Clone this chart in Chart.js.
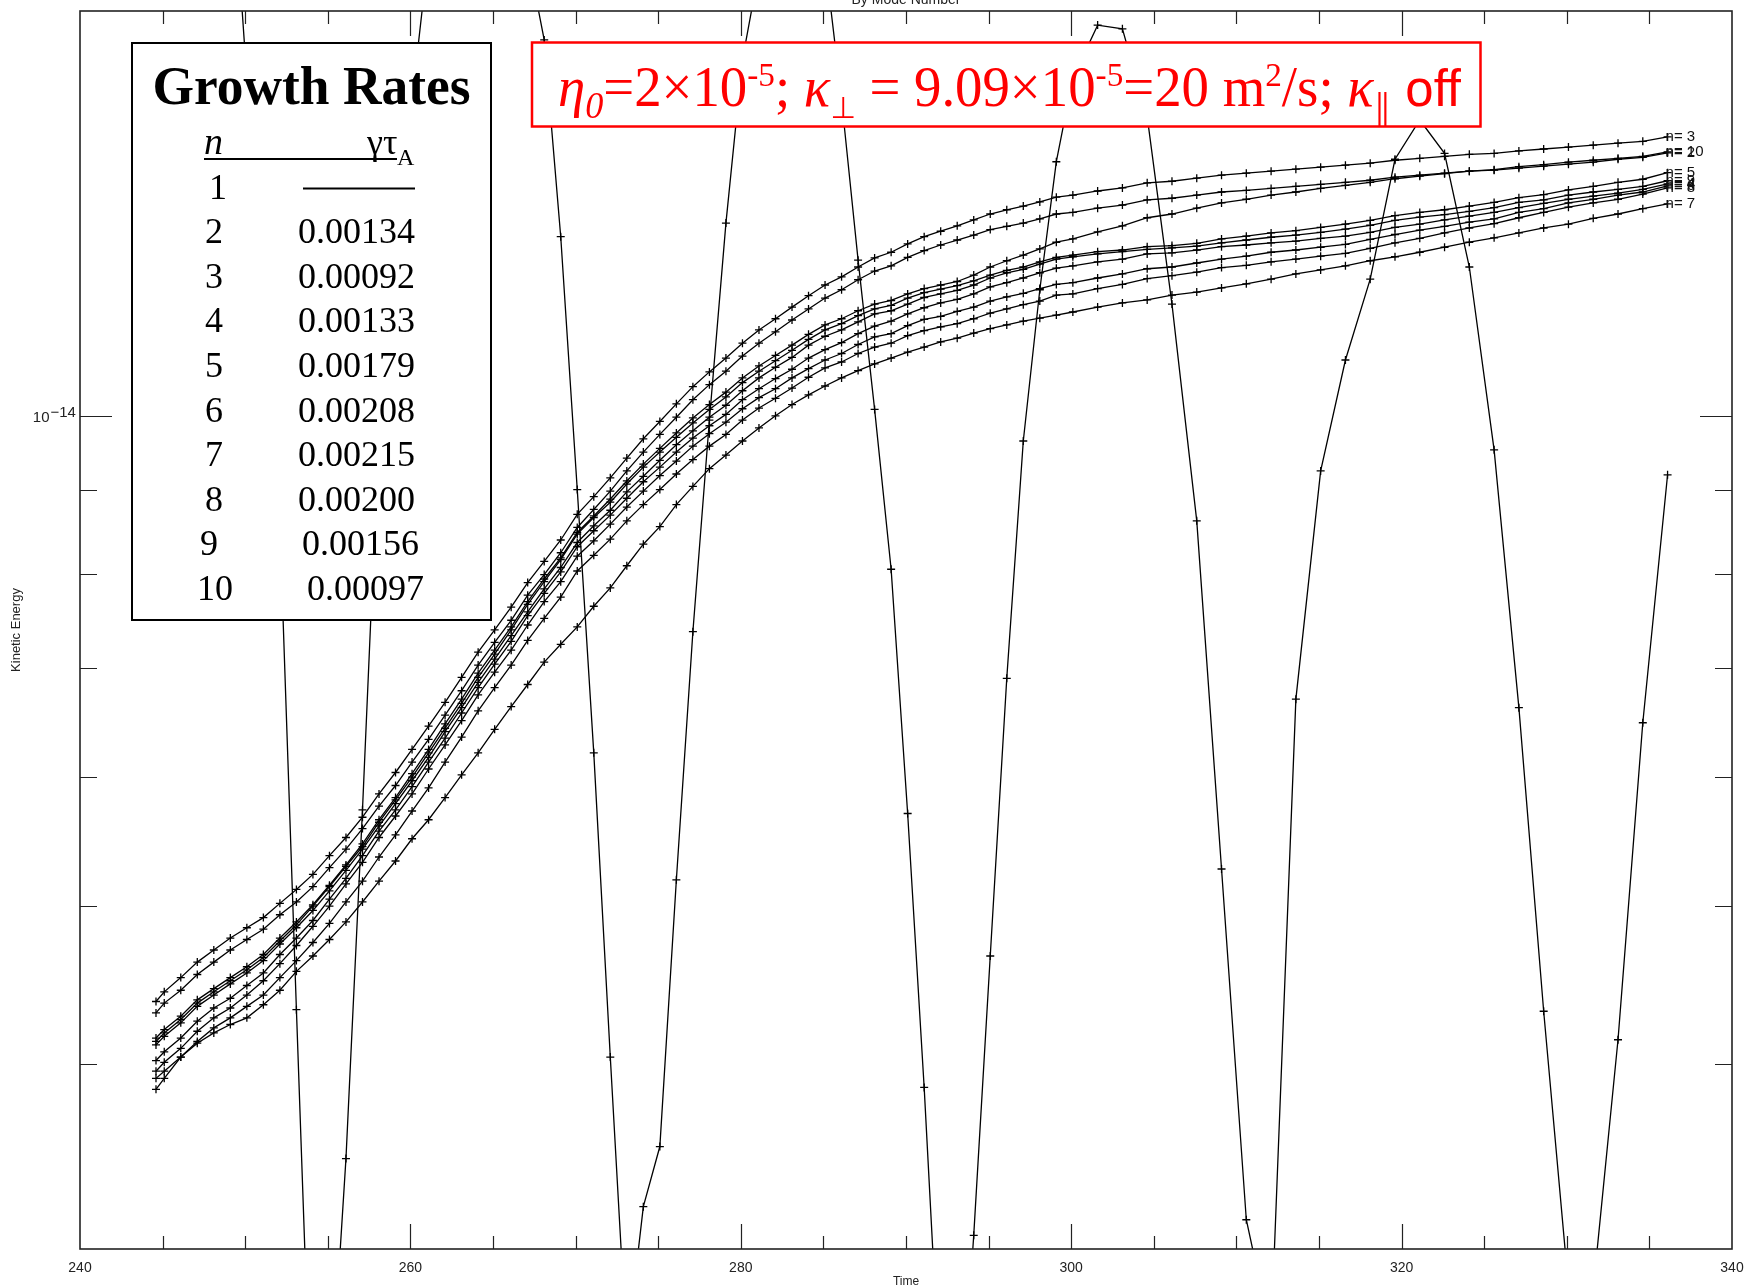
<!DOCTYPE html>
<html>
<head>
<meta charset="utf-8">
<title>Kinetic Energy By Mode Number</title>
<script src="https://cdn.jsdelivr.net/npm/chart.js@4.4.1/dist/chart.umd.min.js"></script>
<style>
  html, body { margin: 0; padding: 0; background: #fff; }
  #wrap { width: 1749px; height: 1288px; position: relative; }
</style>
</head>
<body>
<div id="wrap"><canvas id="energyChart"></canvas></div>
<script>
// time samples (dt = 1 up to t ~ 300, then 1.5)
const times = [
  244.6, 245.1, 246.1, 247.1, 248.1, 249.1, 250.1,
  251.1, 252.1, 253.1, 254.1, 255.1, 256.1, 257.1,
  258.1, 259.1, 260.1, 261.1, 262.1, 263.1,
  264.1, 265.1, 266.1, 267.1, 268.1, 269.1, 270.1,
  271.1, 272.1, 273.1, 274.1, 275.1, 276.1, 277.1, 278.1,
  279.1, 280.1, 281.1, 282.1, 283.1, 284.1, 285.1,
  286.1, 287.1, 288.1, 289.1, 290.1, 291.1, 292.1, 293.1,
  294.1, 295.1, 296.1, 297.1, 298.1, 299.1, 300.1,
  301.6, 303.1, 304.6, 306.1, 307.6,
  309.1, 310.6, 312.1, 313.6, 315.1, 316.6,
  318.1, 319.6, 321.1, 322.6, 324.1,
  325.6, 327.1, 328.6, 330.1,
  331.6, 333.1, 334.6, 336.1
];

// kinetic energy per mode, in units of 1e-15
const energyUnit = 1e-15;

const modeN1 = [
  23.9, 24.9, 25.6, 25.3, 24.5, 22.6, 16.1,
  11.78, 8.56, 4.32, 2.22, 2.42, 3.50, 5.73,
  9.80, 13.0, 15.63, 19.23, 22.24, 24.2,
  25.3, 24.9, 22.9, 19.18, 17.01, 12.88, 9.01,
  6.21, 4.04, 2.67, 3.27, 3.56, 5.19, 7.37, 9.94,
  13.13, 16.54, 18.77, 20.15, 20.73, 20.44, 19.05,
  15.63, 12.46, 10.09, 8.05, 5.70, 3.87, 2.49, 2.22,
  3.14, 4.66, 6.90, 9.65, 11.95, 14.32, 16.12,
  17.37, 17.28, 15.26, 11.71, 8.62,
  5.27, 3.21, 2.73, 6.70, 9.25, 10.82,
  12.13, 14.37, 15.19, 14.49, 12.34,
  9.53, 6.62, 4.31, 2.92,
  2.91, 4.14, 6.48, 9.20
];

const modeN2 = [
  4.30, 4.36, 4.44, 4.54, 4.62, 4.70, 4.77,
  4.84, 4.94, 5.03, 5.14, 5.28, 5.42, 5.58,
  5.76, 5.93, 6.13, 6.33, 6.55, 6.78,
  7.03, 7.26, 7.49, 7.76, 7.99, 8.24, 8.54,
  8.76, 8.99, 9.25, 9.50, 9.74, 9.98, 10.23, 10.45,
  10.65, 10.88, 11.08, 11.26, 11.45, 11.63, 11.81,
  11.95, 12.12, 12.27, 12.36, 12.51, 12.63, 12.73, 12.82,
  12.91, 13.01, 13.07, 13.13, 13.21, 13.30, 13.33,
  13.41, 13.47, 13.57, 13.60, 13.66,
  13.72, 13.75, 13.79, 13.83, 13.87, 13.91,
  13.95, 14.01, 14.05, 14.09, 14.13,
  14.15, 14.19, 14.23, 14.27,
  14.31, 14.37, 14.41, 14.50
];

const modeN3 = [
  4.37, 4.43, 4.52, 4.62, 4.70, 4.78, 4.85,
  4.92, 5.02, 5.12, 5.23, 5.37, 5.51, 5.67,
  5.86, 6.04, 6.24, 6.45, 6.67, 6.91,
  7.16, 7.39, 7.63, 7.90, 8.14, 8.39, 8.70,
  8.92, 9.16, 9.42, 9.68, 9.92, 10.17, 10.42, 10.64,
  10.85, 11.08, 11.29, 11.47, 11.66, 11.85, 12.03,
  12.17, 12.34, 12.50, 12.60, 12.75, 12.88, 12.98, 13.08,
  13.19, 13.30, 13.38, 13.45, 13.53, 13.62, 13.66,
  13.74, 13.80, 13.90, 13.93, 13.99,
  14.05, 14.09, 14.13, 14.17, 14.21, 14.25,
  14.29, 14.35, 14.39, 14.43, 14.47,
  14.49, 14.54, 14.58, 14.62,
  14.66, 14.70, 14.74, 14.83
];

const modeN4 = [
  4.02, 4.07, 4.15, 4.25, 4.33, 4.39, 4.47,
  4.55, 4.67, 4.78, 4.90, 5.05, 5.20, 5.37,
  5.56, 5.73, 5.92, 6.13, 6.34, 6.57,
  6.81, 7.04, 7.27, 7.54, 7.78, 8.02, 8.31,
  8.50, 8.69, 8.90, 9.11, 9.30, 9.50, 9.69, 9.86,
  10.02, 10.23, 10.39, 10.54, 10.68, 10.85, 10.98,
  11.09, 11.23, 11.35, 11.43, 11.55, 11.65, 11.73, 11.79,
  11.88, 12.00, 12.07, 12.15, 12.24, 12.32, 12.36,
  12.43, 12.48, 12.57, 12.59, 12.64,
  12.70, 12.73, 12.77, 12.80, 12.85, 12.89,
  12.96, 13.05, 13.11, 13.19, 13.26,
  13.33, 13.42, 13.50, 13.58,
  13.64, 13.70, 13.77, 13.88
];

const modeN5 = [
  4.13, 4.18, 4.26, 4.36, 4.43, 4.50, 4.57,
  4.65, 4.76, 4.87, 5.00, 5.14, 5.29, 5.44,
  5.63, 5.81, 6.00, 6.21, 6.43, 6.66,
  6.91, 7.14, 7.39, 7.66, 7.91, 8.16, 8.46,
  8.66, 8.85, 9.08, 9.30, 9.50, 9.70, 9.90, 10.09,
  10.27, 10.48, 10.65, 10.81, 10.97, 11.14, 11.29,
  11.39, 11.52, 11.63, 11.69, 11.81, 11.90, 11.96, 12.02,
  12.10, 12.20, 12.28, 12.34, 12.43, 12.51, 12.55,
  12.61, 12.64, 12.70, 12.72, 12.76,
  12.84, 12.89, 12.95, 12.99, 13.05, 13.11,
  13.18, 13.27, 13.33, 13.38, 13.45,
  13.52, 13.61, 13.67, 13.76,
  13.83, 13.91, 13.97, 14.10
];

const modeN6 = [
  3.96, 4.01, 4.09, 4.19, 4.27, 4.33, 4.41,
  4.50, 4.61, 4.73, 4.86, 5.00, 5.16, 5.32,
  5.51, 5.68, 5.86, 6.07, 6.28, 6.50,
  6.74, 6.96, 7.18, 7.44, 7.69, 7.91, 8.20,
  8.38, 8.58, 8.79, 8.99, 9.19, 9.38, 9.58, 9.75,
  9.91, 10.10, 10.26, 10.39, 10.55, 10.69, 10.82,
  10.92, 11.06, 11.18, 11.23, 11.36, 11.46, 11.51, 11.59,
  11.66, 11.76, 11.83, 11.89, 11.97, 12.04, 12.07,
  12.15, 12.22, 12.31, 12.34, 12.41,
  12.48, 12.53, 12.60, 12.64, 12.69, 12.74,
  12.83, 12.92, 13.00, 13.07, 13.15,
  13.21, 13.33, 13.40, 13.51,
  13.58, 13.66, 13.72, 13.84
];

const modeN7 = [
  3.86, 3.92, 4.04, 4.12, 4.18, 4.23, 4.27,
  4.35, 4.44, 4.56, 4.66, 4.77, 4.89, 5.03,
  5.18, 5.33, 5.50, 5.65, 5.83, 6.02,
  6.21, 6.42, 6.63, 6.84, 7.06, 7.24, 7.42,
  7.64, 7.84, 8.09, 8.34, 8.55, 8.82, 9.05, 9.28,
  9.46, 9.65, 9.83, 10.00, 10.16, 10.30, 10.43,
  10.55, 10.66, 10.76, 10.85, 10.94, 11.02, 11.10, 11.16,
  11.24, 11.31, 11.37, 11.43, 11.48, 11.53, 11.58,
  11.66, 11.73, 11.78, 11.86, 11.91,
  11.98, 12.05, 12.13, 12.22, 12.29, 12.36,
  12.45, 12.52, 12.60, 12.69, 12.78,
  12.86, 12.95, 13.04, 13.11,
  13.22, 13.30, 13.40, 13.49
];

const modeN8 = [
  3.92, 3.96, 4.04, 4.13, 4.21, 4.27, 4.34,
  4.41, 4.52, 4.63, 4.75, 4.88, 5.03, 5.18,
  5.36, 5.53, 5.72, 5.91, 6.13, 6.35,
  6.59, 6.81, 7.03, 7.28, 7.51, 7.74, 8.03,
  8.21, 8.40, 8.62, 8.82, 9.01, 9.21, 9.40, 9.58,
  9.74, 9.94, 10.11, 10.25, 10.40, 10.56, 10.70,
  10.79, 10.92, 11.02, 11.08, 11.20, 11.28, 11.34, 11.39,
  11.47, 11.56, 11.63, 11.70, 11.76, 11.86, 11.88,
  11.97, 12.04, 12.14, 12.19, 12.25,
  12.33, 12.37, 12.43, 12.48, 12.53, 12.58,
  12.67, 12.77, 12.85, 12.95, 13.04,
  13.12, 13.23, 13.33, 13.43,
  13.51, 13.58, 13.68, 13.80
];

const modeN9 = [
  4.11, 4.16, 4.24, 4.34, 4.41, 4.48, 4.55,
  4.63, 4.74, 4.85, 4.97, 5.11, 5.26, 5.42,
  5.60, 5.78, 5.97, 6.17, 6.40, 6.62,
  6.86, 7.09, 7.33, 7.58, 7.83, 8.07, 8.36,
  8.56, 8.75, 8.98, 9.18, 9.39, 9.60, 9.79, 9.98,
  10.15, 10.36, 10.55, 10.71, 10.86, 11.05, 11.19,
  11.29, 11.42, 11.55, 11.60, 11.71, 11.82, 11.88, 11.94,
  12.03, 12.15, 12.24, 12.30, 12.39, 12.48, 12.52,
  12.57, 12.61, 12.65, 12.68, 12.71,
  12.77, 12.82, 12.87, 12.91, 12.96, 13.02,
  13.09, 13.18, 13.24, 13.29, 13.35,
  13.42, 13.52, 13.57, 13.66,
  13.72, 13.77, 13.83, 13.94
];

const modeN10 = [
  4.15, 4.20, 4.28, 4.38, 4.45, 4.52, 4.59,
  4.67, 4.78, 4.89, 5.01, 5.15, 5.30, 5.46,
  5.65, 5.83, 6.03, 6.24, 6.47, 6.70,
  6.95, 7.18, 7.42, 7.69, 7.94, 8.18, 8.48,
  8.68, 8.89, 9.12, 9.34, 9.55, 9.76, 9.97, 10.16,
  10.34, 10.55, 10.73, 10.89, 11.05, 11.22, 11.37,
  11.47, 11.60, 11.71, 11.77, 11.88, 11.97, 12.03, 12.09,
  12.20, 12.34, 12.45, 12.55, 12.66, 12.78, 12.84,
  12.97, 13.08, 13.23, 13.30, 13.41,
  13.51, 13.58, 13.66, 13.72, 13.79, 13.85,
  13.91, 13.98, 14.03, 14.08, 14.13,
  14.16, 14.22, 14.26, 14.31,
  14.35, 14.39, 14.43, 14.52
];

const modes = [1, 2, 3, 4, 5, 6, 7, 8, 9, 10];
const modeValues = [modeN1, modeN2, modeN3, modeN4, modeN5, modeN6, modeN7, modeN8, modeN9, modeN10];

// axis ticks
const xMinorTicks = [245, 250, 255, 265, 270, 275, 285, 290, 295, 305, 310, 315, 325, 330, 335];
const xMajorTicks = [260, 280, 300, 320];
const yMinorTicks = [4e-15, 5e-15, 6e-15, 7e-15, 8e-15, 9e-15];
const yMajorTicks = [1e-14];

// growth rate table
const rateModes = ['1', '2', '3', '4', '5', '6', '7', '8', '9', '10'];
const rateValues = [null, '0.00134', '0.00092', '0.00133', '0.00179', '0.00208', '0.00215', '0.00200', '0.00156', '0.00097'];

const SANS = '"Liberation Sans", Arial, sans-serif';
const SERIF = '"Liberation Serif", "Times New Roman", serif';

const datasets = modes.map((n, k) => ({
  label: 'n= ' + n,
  endLabel: n === 1 ? null : 'n= ' + n,
  data: times.map((t, i) => ({ x: t, y: modeValues[k][i] * energyUnit })),
  showLine: true,
  borderColor: '#000',
  borderWidth: 1.3,
  pointStyle: 'cross',
  pointRadius: 4,
  pointHoverRadius: 4,
  pointBorderColor: '#000',
  pointBorderWidth: 1.3,
  tension: 0,
  fill: false
}));

// frame box plus inward ticks on all four sides
const frameTicks = {
  id: 'frameTicks',
  afterDatasetsDraw(chart) {
    const { ctx, chartArea: a, scales: { x, y } } = chart;
    ctx.save();
    ctx.strokeStyle = '#222';
    ctx.lineWidth = 1.2;
    const xt = (v, len) => {
      const px = Math.round(x.getPixelForValue(v)) + 0.5;
      ctx.beginPath();
      ctx.moveTo(px, a.bottom); ctx.lineTo(px, a.bottom - len);
      ctx.moveTo(px, a.top); ctx.lineTo(px, a.top + len);
      ctx.stroke();
    };
    const yt = (v, len) => {
      const py = Math.round(y.getPixelForValue(v)) + 0.5;
      ctx.beginPath();
      ctx.moveTo(a.left, py); ctx.lineTo(a.left + len, py);
      ctx.moveTo(a.right, py); ctx.lineTo(a.right - len, py);
      ctx.stroke();
    };
    xMinorTicks.forEach(v => xt(v, 13));
    xMajorTicks.forEach(v => xt(v, 25));
    yMinorTicks.forEach(v => yt(v, 17));
    yMajorTicks.forEach(v => yt(v, 32));
    ctx.lineWidth = 1.6;
    ctx.strokeRect(a.left, a.top, a.right - a.left, a.bottom - a.top);
    ctx.restore();
  }
};

function drawRatesTable(ctx) {
  ctx.save();
  ctx.fillStyle = '#fff';
  ctx.fillRect(132, 43, 359, 577);
  ctx.strokeStyle = '#000';
  ctx.lineWidth = 2;
  ctx.strokeRect(132, 43, 359, 577);

  ctx.fillStyle = '#000';
  ctx.textBaseline = 'alphabetic';
  ctx.textAlign = 'center';
  ctx.font = 'bold 54px ' + SERIF;
  ctx.fillText('Growth Rates', 311.5, 104, 318);

  ctx.textAlign = 'left';
  ctx.font = 'italic 38px ' + SERIF;
  ctx.fillText('n', 204, 154);
  ctx.font = '36px ' + SERIF;
  ctx.fillText('γτ', 367, 154);
  ctx.font = '24px ' + SERIF;
  ctx.fillText('A', 397, 165);
  ctx.lineWidth = 2;
  ctx.beginPath();
  ctx.moveTo(204, 159); ctx.lineTo(397, 159);
  ctx.stroke();

  ctx.font = '36px ' + SERIF;
  rateModes.forEach((m, i) => {
    const base = 198.5 + i * 44.6;
    const nx = i === 0 ? 209 : i === 8 ? 200 : i === 9 ? 197 : 205;
    ctx.fillText(m, nx, base);
    if (rateValues[i] === null) {
      ctx.beginPath();
      ctx.moveTo(303, base - 10); ctx.lineTo(415, base - 10);
      ctx.stroke();
    } else {
      const vx = i === 8 ? 302 : i === 9 ? 307 : 298;
      ctx.fillText(rateValues[i], vx, base);
    }
  });
  ctx.restore();
}

const noteParts = [
  { text: 'η', font: 'italic 56px ' + SERIF, dy: 0 },
  { text: '0', font: 'italic 37px ' + SERIF, dy: 12 },
  { text: '=2×10', font: '56px ' + SERIF, dy: 0 },
  { text: '-5', font: '34px ' + SERIF, dy: -20 },
  { text: '; ', font: '56px ' + SERIF, dy: 0 },
  { text: 'κ', font: 'italic 56px ' + SERIF, dy: 0 },
  { text: '⊥', font: '30px "DejaVu Sans", sans-serif', dy: 12 },
  { text: ' = 9.09×10', font: '56px ' + SERIF, dy: 0 },
  { text: '-5', font: '34px ' + SERIF, dy: -20 },
  { text: '=20 m', font: '56px ' + SERIF, dy: 0 },
  { text: '2', font: '34px ' + SERIF, dy: -20 },
  { text: '/s; ', font: '56px ' + SERIF, dy: 0 },
  { text: 'κ', font: 'italic 56px ' + SERIF, dy: 0 },
  { bars: true, width: 18 },
  { text: ' off', font: '52px ' + SANS, dy: 0 }
];

function drawNote(ctx) {
  ctx.save();
  ctx.fillStyle = '#fff';
  ctx.fillRect(532, 42.5, 948.5, 84);
  ctx.strokeStyle = '#ff0000';
  ctx.lineWidth = 2.5;
  ctx.strokeRect(532, 42.5, 948.5, 84);

  let total = 0;
  noteParts.forEach(p => {
    if (p.bars) { p.w = p.width; } else { ctx.font = p.font; p.w = ctx.measureText(p.text).width; }
    total += p.w;
  });
  const sx = (1461 - 558) / total;
  ctx.translate(558, 106);
  ctx.scale(sx, 1);
  ctx.fillStyle = '#ff0000';
  ctx.strokeStyle = '#ff0000';
  ctx.textBaseline = 'alphabetic';
  ctx.textAlign = 'left';
  let cx = 0;
  noteParts.forEach(p => {
    if (p.bars) {
      ctx.lineWidth = 2.2;
      ctx.beginPath();
      ctx.moveTo(cx + 6, -14); ctx.lineTo(cx + 6, 20);
      ctx.moveTo(cx + 12, -14); ctx.lineTo(cx + 12, 20);
      ctx.stroke();
    } else {
      ctx.font = p.font;
      ctx.fillText(p.text, cx, p.dy);
    }
    cx += p.w;
  });
  ctx.restore();
}

const overlays = {
  id: 'overlays',
  afterDraw(chart) {
    const { ctx, chartArea: a, scales: { y } } = chart;
    ctx.save();
    // labels at the end of each mode curve
    ctx.fillStyle = '#111';
    ctx.font = '15px ' + SANS;
    ctx.textBaseline = 'middle';
    ctx.textAlign = 'left';
    chart.data.datasets.forEach((ds, i) => {
      if (!ds.endLabel) return;
      const pts = chart.getDatasetMeta(i).data;
      const last = pts[pts.length - 1];
      ctx.fillText(ds.endLabel, last.x - 2, last.y);
    });

    // y tick label 10^-14
    const yp = y.getPixelForValue(yMajorTicks[0]);
    ctx.fillStyle = '#222';
    ctx.textBaseline = 'alphabetic';
    ctx.textAlign = 'right';
    ctx.font = '15px ' + SANS;
    ctx.fillText('10', 49.5, yp + 6);
    ctx.textAlign = 'left';
    ctx.fillText('\u221214', 50.5, yp + 1);

    // plot title, clipped at the top edge
    ctx.textAlign = 'center';
    ctx.font = '14px ' + SANS;
    ctx.fillText('By Mode Number', (a.left + a.right) / 2, 4);
    ctx.restore();

    drawRatesTable(ctx);
    drawNote(ctx);
  }
};

new Chart(document.getElementById('energyChart'), {
  type: 'scatter',
  data: { datasets },
  options: {
    responsive: true,
    maintainAspectRatio: false,
    devicePixelRatio: 1,
    animation: false,
    layout: { padding: { top: 11, right: 17, left: 0, bottom: 0 } },
    plugins: {
      legend: { display: false },
      tooltip: { enabled: false },
      title: { display: false }
    },
    scales: {
      x: {
        type: 'linear',
        position: 'bottom',
        min: 240,
        max: 340,
        bounds: 'data',
        grid: { display: false, drawTicks: false, tickLength: 0 },
        border: { display: false },
        ticks: {
          stepSize: 20,
          padding: 11,
          maxRotation: 0,
          autoSkip: false,
          color: '#222',
          font: { family: SANS, size: 14 }
        },
        title: {
          display: true,
          text: 'Time',
          color: '#222',
          padding: 0,
          font: { family: SANS, size: 12, lineHeight: 1 }
        },
        afterFit(scale) {
          scale.height = 39;
          scale.paddingLeft = 0;
          scale.paddingRight = 0;
        }
      },
      y: {
        type: 'logarithmic',
        position: 'left',
        min: 3.08e-15,
        max: 1.772e-14,
        bounds: 'data',
        grid: { display: false },
        border: { display: false },
        ticks: { display: false },
        title: {
          display: true,
          text: 'Kinetic Energy',
          color: '#222',
          padding: { top: 9, bottom: 0 },
          font: { family: SANS, size: 13 }
        },
        afterFit(scale) { scale.width = 80; }
      }
    }
  },
  plugins: [frameTicks, overlays]
});
</script>
</body>
</html>
